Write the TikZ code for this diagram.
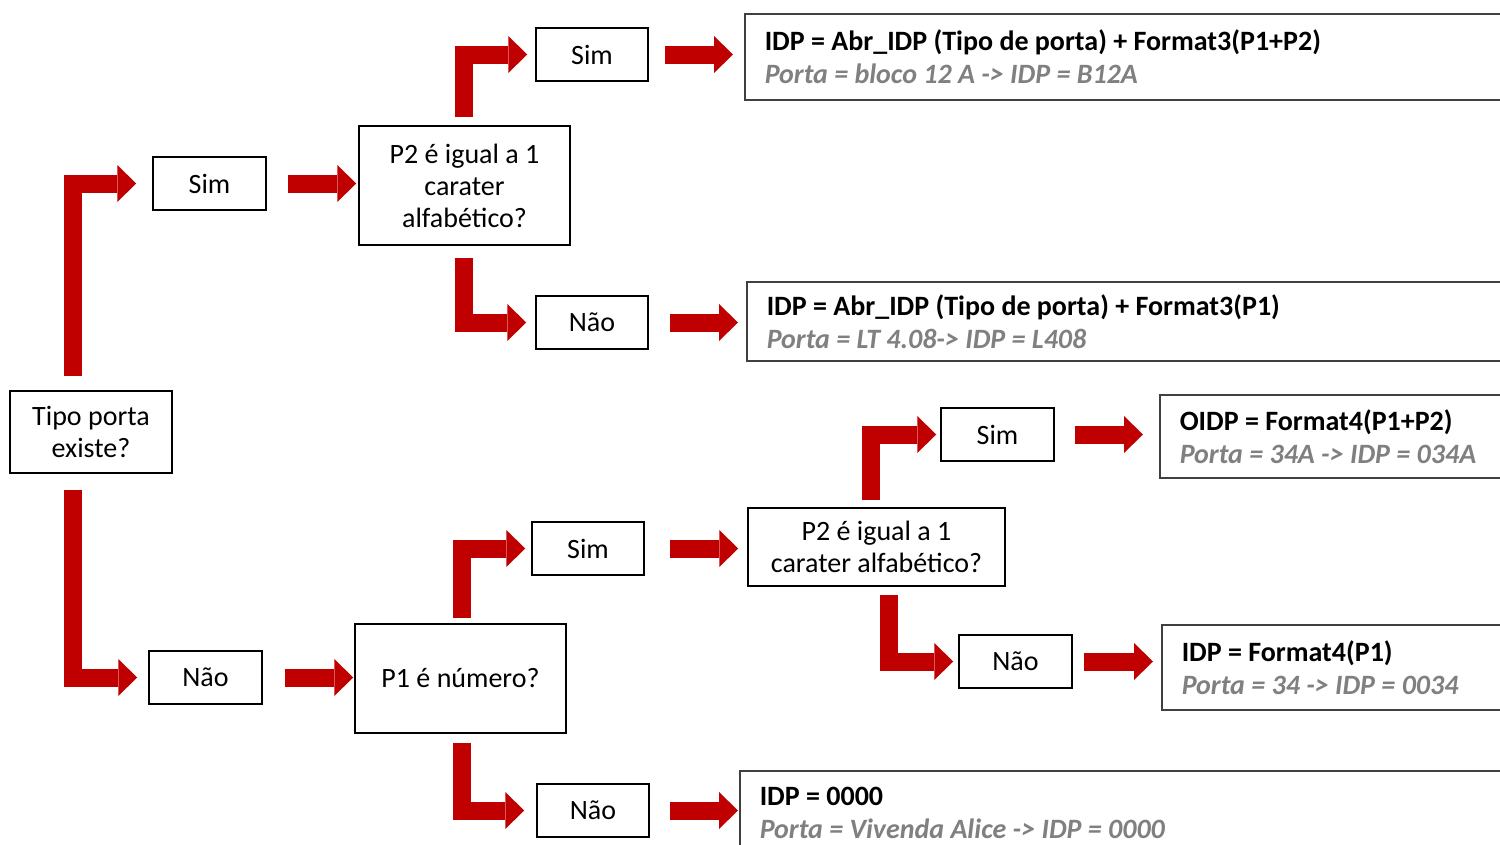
\documentclass[tikz,border=0pt]{standalone}
\usepackage{fontspec}
\setmainfont{Carlito}
\usetikzlibrary{arrows.meta}
\definecolor{vermelho}{RGB}{192,0,0}
\definecolor{cinza}{RGB}{128,128,128}
\definecolor{borda}{RGB}{64,64,64}
\newcommand{\regra}[2]{\textbf{#1}\\{\color{cinza}\bfseries\itshape #2}}

\begin{document}
\begin{tikzpicture}[x=1pt,y=-1pt,
	caixa/.style={draw=black, line width=1.5pt, inner sep=0pt, align=center, font=\fontsize{28}{32}\selectfont},
	resultado/.style={draw=borda, line width=1.5pt, anchor=north west, inner xsep=20pt, inner ysep=0pt, align=flush left, text width=860pt, font=\fontsize{28}{33}\selectfont},
	seta/.style={draw=vermelho, line width=18pt, line join=miter, -{Triangle[length=19pt,width=37pt,line width=0pt]}}]
			%%%%% START %%%%%
			
			\clip (0, 0) rectangle (1500, 844);
			\fill[white] (0, 0) rectangle (1500, 844);
			
			% primeira pergunta
			\node[caixa, minimum width=162pt, minimum height=82pt] (tipo) at (91, 432) {Tipo porta\\existe?};
			\node[caixa, minimum width=113pt, minimum height=53pt] (sima) at (209.5, 183.5) {Sim};
			\node[caixa, minimum width=113pt, minimum height=53pt] (naoa) at (205.5, 677.5) {Não};
			
			% ramo de cima
			\node[caixa, minimum width=211pt, minimum height=119pt] (pdoisa) at (464.5, 185.5) {P2 é igual a 1\\carater\\alfabético?};
			\node[caixa, minimum width=112pt, minimum height=53pt] (simb) at (592, 54.5) {Sim};
			\node[caixa, minimum width=112pt, minimum height=53pt] (naob) at (592, 322.5) {Não};
			\node[resultado, minimum height=86pt] (resa) at (744, 13) {\regra{IDP = Abr\_IDP (Tipo de porta) + Format3(P1+P2)}{Porta = bloco 12 A -> IDP = B12A}};
			\node[resultado, minimum height=79pt] (resb) at (746, 281) {\regra{IDP = Abr\_IDP (Tipo de porta) + Format3(P1)}{Porta = LT 4.08-> IDP = L408}};
			
			% ramo de baixo
			\node[caixa, minimum width=211pt, minimum height=109pt] (pum) at (460.5, 678.5) {P1 é número?};
			\node[caixa, minimum width=112pt, minimum height=53pt] (simc) at (588, 548.5) {Sim};
			\node[caixa, minimum width=112pt, minimum height=53pt] (naoc) at (593, 810.5) {Não};
			\node[caixa, minimum width=257pt, minimum height=78pt] (pdoisb) at (876.5, 547) {P2 é igual a 1\\carater alfabético?};
			\node[caixa, minimum width=113pt, minimum height=53pt] (simd) at (997.5, 434.5) {Sim};
			\node[caixa, minimum width=113pt, minimum height=53pt] (naod) at (1015.5, 661.5) {Não};
			\node[resultado, minimum height=83pt] (resc) at (1159, 394) {\regra{OIDP = Format4(P1+P2)}{Porta = 34A -> IDP = 034A}};
			\node[resultado, minimum height=85pt] (resd) at (1161, 624) {\regra{IDP = Format4(P1)}{Porta = 34 -> IDP = 0034}};
			\node[resultado, minimum height=84pt] (rese) at (739, 770) {\regra{IDP = 0000}{Porta = Vivenda Alice -> IDP = 0000}};
			
			% setas
			\draw[seta] ([xshift=-18.5pt, yshift=14pt]tipo.north) |- ([xshift=-16pt]sima.west);
			\draw[seta] ([xshift=-18pt, yshift=-16pt]tipo.south) |- ([xshift=-11pt]naoa.west);
			\draw[seta] ([xshift=21pt]sima.east) -- ([xshift=-2pt]sima.east -| pdoisa.west);
			\draw[seta] ([xshift=22pt]naoa.east) -- ([xshift=-1pt]naoa.east -| pum.west);
			
			\draw[seta] ([xshift=-1pt, yshift=8pt]pdoisa.north) |- ([xshift=-8pt]simb.west);
			\draw[seta] ([xshift=-1pt, yshift=-12pt]pdoisa.south) |- ([xshift=-9pt]naob.west);
			\draw[seta] ([xshift=16pt]simb.east) -- ([xshift=-11pt]simb.east -| resa.west);
			\draw[seta] ([xshift=21pt]naob.east) -- ([xshift=-8pt]naob.east -| resb.west);
			
			\draw[seta] ([xshift=1pt, yshift=5pt]pum.north) |- ([xshift=-6pt]simc.west);
			\draw[seta] ([xshift=1pt, yshift=-9pt]pum.south) |- ([xshift=-12pt]naoc.west);
			\draw[seta] ([xshift=25pt]simc.east) -- ([xshift=-9pt]simc.east -| pdoisb.west);
			\draw[seta] ([xshift=20pt]naoc.east) -- ([xshift=-1pt]naoc.east -| rese.west);
			
			\draw[seta] ([xshift=-5.5pt, yshift=7pt]pdoisb.north) |- ([xshift=-4pt]simd.west);
			\draw[seta] ([xshift=12.5pt, yshift=-8pt]pdoisb.south) |- ([xshift=-5pt]naod.west);
			\draw[seta] ([xshift=20pt]simd.east) -- ([xshift=-16pt]simd.east -| resc.west);
			\draw[seta] ([xshift=11pt]naod.east) -- ([xshift=-8pt]naod.east -| resd.west);
			
			%%%%% END %%%%%
\end{tikzpicture}
\end{document}
